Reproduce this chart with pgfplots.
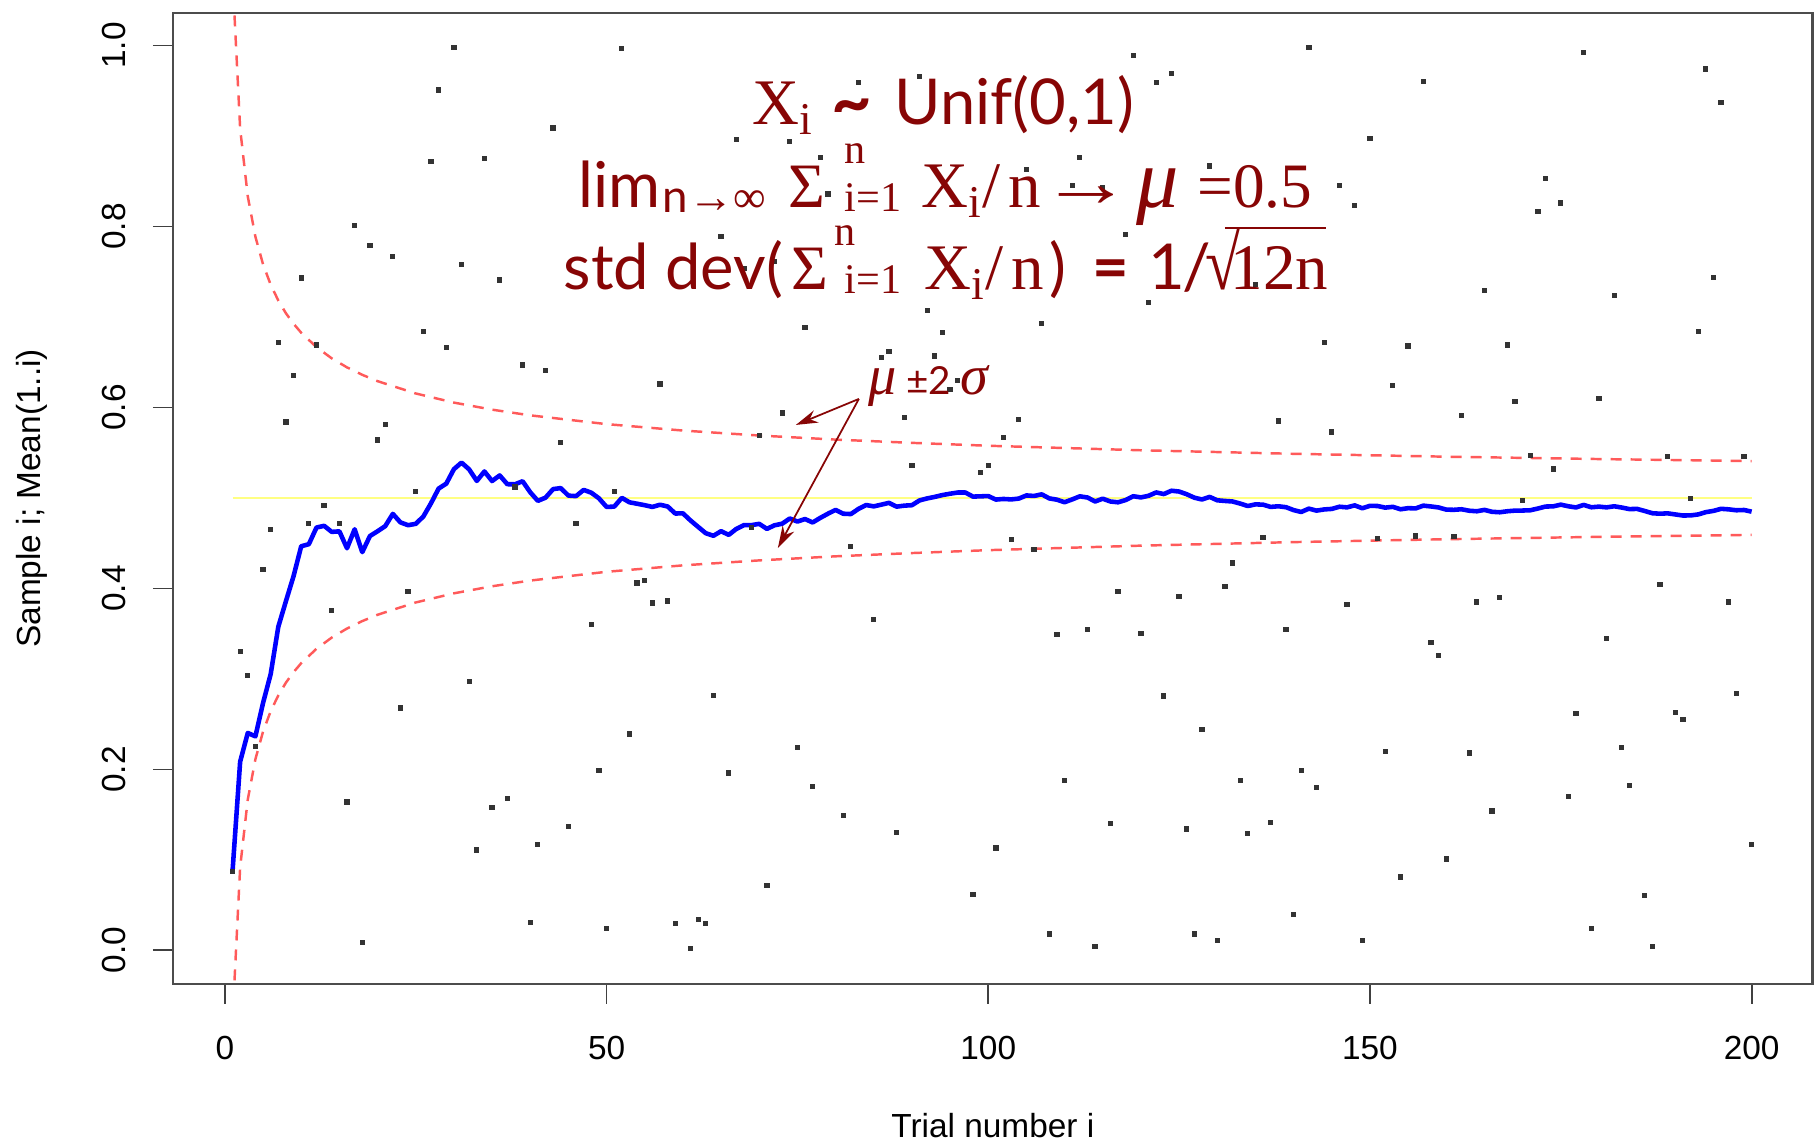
\documentclass[border=0pt]{standalone}
\usepackage{fontspec}
\setmainfont{Liberation Sans}
\newfontfamily\tms{Liberation Serif}
\newfontfamily\gill{Lato}
\usepackage{pgfplots}
\pgfplotsset{compat=1.18}
\usetikzlibrary{arrows.meta}

\definecolor{dred}{RGB}{135,5,5}
\definecolor{rdash}{RGB}{255,90,90}
\definecolor{pyel}{RGB}{255,255,130}

% sum limits: n above, i=1 below
\newcommand\sums[2]{{\tms\fontsize{12}{13}\selectfont\makebox[0pt][l]{\raisebox{4.4mm}{#1}}\raisebox{-0.35mm}{#2}}}

\begin{document}
\begin{tikzpicture}
\begin{axis}[
  scale only axis,
  width=164mm, height=97.1mm,
  xmin=-6.8, xmax=208.0,
  ymin=-0.037, ymax=1.036,
  axis line style={black!70, line width=0.7pt},
  tick align=outside,
  major tick length=2mm,
  tick style={black!75, line width=0.5pt},
  xtick={0,50,100,150,200},
  xticklabels={0,50,100,150,200},
  ytick={0,0.2,0.4,0.6,0.8,1},
  yticklabels={0.0,0.2,0.4,0.6,0.8,1.0},
  xtick pos=bottom, ytick pos=left,
  every tick label/.append style={font=\fontsize{9.5}{11}\selectfont},
  xticklabel shift=2mm,
  yticklabel style={rotate=90, anchor=south},
  yticklabel shift=1.5mm,
  xlabel={Trial number i},
  ylabel={Sample i; Mean(1..i)},
  label style={font=\fontsize{9.5}{11}\selectfont},
  xlabel style={at={(axis description cs:0.5,-0.1457)}, anchor=center},
  ylabel style={at={(axis description cs:-0.0858,0.5)}, anchor=center},
]

% mu = 0.5
\addplot[pyel, line width=0.8pt] coordinates {(1,0.5) (200,0.5)};

% mu +- 2 sigma
\addplot[rdash, line width=0.7pt, dash pattern=on 1.1mm off 0.9mm] coordinates {
(1,1.0774) (2,0.9082) (3,0.8333) (4,0.7887) (5,0.7582) (6,0.7357) (7,0.7182) (8,0.7041) (9,0.6925) (10,0.6826)
(12,0.6667) (14,0.6543) (16,0.6443) (18,0.6361) (20,0.6291) (25,0.6155) (30,0.6054) (35,0.5976) (40,0.5913)
(50,0.5816) (60,0.5745) (70,0.5690) (80,0.5645) (90,0.5609) (100,0.5577) (120,0.5527) (140,0.5488)
(160,0.5456) (180,0.5430) (200,0.5408)};
\addplot[rdash, line width=0.7pt, dash pattern=on 1.1mm off 0.9mm] coordinates {
(1,-0.0774) (2,0.0918) (3,0.1667) (4,0.2113) (5,0.2418) (6,0.2643) (7,0.2818) (8,0.2959) (9,0.3075) (10,0.3174)
(12,0.3333) (14,0.3457) (16,0.3557) (18,0.3639) (20,0.3709) (25,0.3845) (30,0.3946) (35,0.4024) (40,0.4087)
(50,0.4184) (60,0.4255) (70,0.4310) (80,0.4355) (90,0.4391) (100,0.4423) (120,0.4473) (140,0.4512)
(160,0.4544) (180,0.4570) (200,0.4592)};

% running mean
\addplot[blue, line width=1.3pt, line join=round] coordinates {
(1,0.0870) (2,0.2085) (3,0.2403) (4,0.2365) (5,0.2734) (6,0.3053) (7,0.3577) (8,0.3860) (9,0.4137) (10,0.4466)
(11,0.4489) (12,0.4673) (13,0.4692) (14,0.4625) (15,0.4631) (16,0.4444) (17,0.4654) (18,0.4401) (19,0.4579) (20,0.4632)
(21,0.4688) (22,0.4824) (23,0.4730) (24,0.4699) (25,0.4714) (26,0.4795) (27,0.4941) (28,0.5104) (29,0.5158) (30,0.5318)
(31,0.5391) (32,0.5316) (33,0.5188) (34,0.5293) (35,0.5187) (36,0.5249) (37,0.5152) (38,0.5151) (39,0.5185) (40,0.5063)
(41,0.4968) (42,0.5003) (43,0.5098) (44,0.5109) (45,0.5026) (46,0.5020) (47,0.5089) (48,0.5058) (49,0.4996) (50,0.4901)
(51,0.4904) (52,0.5001) (53,0.4952) (54,0.4936) (55,0.4920) (56,0.4901) (57,0.4925) (58,0.4906) (59,0.4828) (60,0.4830)
(61,0.4751) (62,0.4680) (63,0.4610) (64,0.4582) (65,0.4633) (66,0.4592) (67,0.4658) (68,0.4700) (69,0.4700) (70,0.4714)
(71,0.4658) (72,0.4698) (73,0.4715) (74,0.4773) (75,0.4739) (76,0.4767) (77,0.4729) (78,0.4780) (79,0.4826) (80,0.4868)
(81,0.4826) (82,0.4822) (83,0.4879) (84,0.4922) (85,0.4907) (86,0.4926) (87,0.4946) (88,0.4904) (89,0.4915) (90,0.4920)
(91,0.4973) (92,0.4995) (93,0.5012) (94,0.5032) (95,0.5047) (96,0.5060) (97,0.5060) (98,0.5015) (99,0.5018) (100,0.5021)
(101,0.4982) (102,0.4989) (103,0.4984) (104,0.4993) (105,0.5028) (106,0.5022) (107,0.5040) (108,0.4995) (109,0.4981) (110,0.4953)
(111,0.4984) (112,0.5018) (113,0.5005) (114,0.4961) (115,0.4992) (116,0.4961) (117,0.4952) (118,0.4977) (119,0.5019) (120,0.5006)
(121,0.5024) (122,0.5061) (123,0.5043) (124,0.5080) (125,0.5071) (126,0.5041) (127,0.5003) (128,0.4983) (129,0.5012) (130,0.4974)
(131,0.4967) (132,0.4961) (133,0.4938) (134,0.4911) (135,0.4929) (136,0.4926) (137,0.4901) (138,0.4908) (139,0.4898) (140,0.4866)
(141,0.4845) (142,0.4882) (143,0.4860) (144,0.4873) (145,0.4879) (146,0.4903) (147,0.4896) (148,0.4918) (149,0.4886) (150,0.4913)
(151,0.4911) (152,0.4893) (153,0.4902) (154,0.4875) (155,0.4887) (156,0.4885) (157,0.4915) (158,0.4906) (159,0.4895) (160,0.4871)
(161,0.4869) (162,0.4875) (163,0.4859) (164,0.4853) (165,0.4868) (166,0.4847) (167,0.4842) (168,0.4853) (169,0.4860) (170,0.4861)
(171,0.4864) (172,0.4883) (173,0.4905) (174,0.4907) (175,0.4926) (176,0.4908) (177,0.4895) (178,0.4923) (179,0.4897) (180,0.4904)
(181,0.4896) (182,0.4908) (183,0.4894) (184,0.4877) (185,0.4879) (186,0.4856) (187,0.4831) (188,0.4826) (189,0.4830) (190,0.4818)
(191,0.4806) (192,0.4807) (193,0.4818) (194,0.4843) (195,0.4857) (196,0.4880) (197,0.4874) (198,0.4864) (199,0.4867) (200,0.4849)};

% samples X_i (those hidden under the text / lines left out)
\addplot[only marks, mark=square*, mark size=0.55pt, black!80] coordinates {
(1,0.087) (2,0.330) (3,0.304) (4,0.225) (5,0.421) (6,0.465) (7,0.672) (8,0.584) (9,0.635) (10,0.743)
(11,0.472) (12,0.669) (13,0.492) (14,0.376) (15,0.472) (16,0.164) (17,0.801) (18,0.009) (19,0.779) (20,0.564)
(21,0.581) (22,0.767) (23,0.268) (24,0.397) (25,0.507) (26,0.684) (27,0.872) (28,0.951) (29,0.666) (30,0.998)
(31,0.758) (32,0.297) (33,0.111) (34,0.875) (35,0.158) (36,0.741) (37,0.168) (38,0.512) (39,0.647) (40,0.031)
(41,0.117) (42,0.641) (43,0.909) (44,0.561) (45,0.137) (46,0.472) (48,0.360) (49,0.199) (50,0.024)
(51,0.507) (52,0.997) (53,0.239) (54,0.406) (55,0.409) (56,0.384) (57,0.626) (58,0.386) (59,0.030)
(61,0.002) (62,0.034) (63,0.030) (64,0.282) (65,0.789) (66,0.196) (67,0.896) (68,0.754) (69,0.467) (70,0.569)
(71,0.072) (72,0.761) (73,0.594) (74,0.894) (75,0.224) (76,0.688) (77,0.181) (78,0.876) (79,0.836)
(81,0.149) (82,0.446) (83,0.959) (85,0.366) (86,0.655) (87,0.662) (88,0.130) (89,0.589) (90,0.536)
(91,0.966) (92,0.707) (93,0.657) (94,0.683) (95,0.620) (96,0.630) (98,0.062) (99,0.528) (100,0.536)
(101,0.113) (102,0.567) (103,0.454) (104,0.587) (105,0.863) (106,0.443) (107,0.693) (108,0.018) (109,0.349) (110,0.188)
(111,0.845) (112,0.876) (113,0.355) (114,0.004) (115,0.843) (116,0.140) (117,0.397) (118,0.791) (119,0.989) (120,0.350)
(121,0.716) (122,0.959) (123,0.281) (124,0.969) (125,0.391) (126,0.134) (127,0.018) (128,0.244) (129,0.867) (130,0.011)
(131,0.402) (132,0.428) (133,0.188) (134,0.129) (135,0.736) (136,0.456) (137,0.141) (138,0.585) (139,0.355) (140,0.040)
(141,0.199) (142,0.998) (143,0.180) (144,0.672) (145,0.573) (146,0.845) (147,0.382) (148,0.823) (149,0.011) (150,0.897)
(151,0.455) (152,0.220) (153,0.624) (154,0.081) (155,0.668) (156,0.458) (157,0.960) (158,0.340) (159,0.326) (160,0.101)
(161,0.457) (162,0.591) (163,0.218) (164,0.385) (165,0.729) (166,0.154) (167,0.390) (168,0.669) (169,0.607) (170,0.497)
(171,0.547) (172,0.817) (173,0.853) (174,0.532) (175,0.826) (176,0.170) (177,0.262) (178,0.992) (179,0.024) (180,0.610)
(181,0.345) (182,0.724) (183,0.224) (184,0.182) (186,0.061) (187,0.004) (188,0.404) (189,0.546) (190,0.263)
(191,0.255) (192,0.499) (193,0.684) (194,0.974) (195,0.744) (196,0.937) (197,0.385) (198,0.284) (199,0.546) (200,0.117)};
\end{axis}

% annotations, in pixels of the 1816x1146 picture (origin top left)
\begin{scope}[shift={([shift={(-17.3mm,1.3mm)}]current axis.north west)}, x=0.1mm, y=-0.1mm,
  every node/.style={inner sep=0pt, anchor=base west, text=dred}]
  \node[font=\tms\fontsize{18.5}{20}\selectfont] at (752,125) {X\textsubscript{i}};
  \node[font=\gill\bfseries\fontsize{20}{22}\selectfont] at (831,127) {\textasciitilde};
  \node[font=\gill\fontsize{18}{20}\selectfont] at (894,125) {Unif(0,1)};

  \node[font=\gill\fontsize{18}{20}\selectfont] at (578,208) {lim};
  \node[font=\fontsize{13}{14}\selectfont] at (662,213) {{\gill n}{\tms →∞}};
  \node[font=\tms\fontsize{18}{20}\selectfont] at (788,208) {Σ};
  \node at (844,208) {\sums{n}{i=1}};
  \node[font=\tms\fontsize{18.5}{20}\selectfont] at (921,208) {X\textsubscript{i}/\kern0.12em n};
  \node[font=\tms\fontsize{18}{20}\selectfont] at (1040,207) {\scalebox{1.45}[1.1]{→}};
  \node[font=\tms\itshape\fontsize{24}{26}\selectfont] at (1136,208) {μ};
  \node[font=\tms\fontsize{18}{20}\selectfont] at (1197,208) {=0.5};

  \node[font=\gill\fontsize{18}{20}\selectfont] at (563,290) {std dev(};
  \node[font=\tms\fontsize{18}{20}\selectfont] at (791,290) {Σ};
  \node at (834,290) {\sums{n}{\hspace{1mm}i=1}};
  \node[font=\tms\fontsize{18.5}{20}\selectfont] at (924,290) {X\textsubscript{i}/\kern0.12em n};
  \node[font=\gill\fontsize{18}{20}\selectfont] at (1049,290) {)};
  \node[font=\gill\bfseries\fontsize{18}{20}\selectfont] at (1092,290) {=};
  \node[font=\gill\fontsize{18}{20}\selectfont] at (1148,290) {1\kern-0.04em/};
  \node[font=\tms\fontsize{18}{20}\selectfont] at (1205,290) {\scalebox{1}[1.2]{√}};
  \node[font=\tms\fontsize{18.5}{20}\selectfont] at (1230,290) {12n};
  \draw[dred, line width=0.6pt] (1225,228) -- (1326,228);

  \node[font=\tms\itshape\fontsize{16}{18}\selectfont] at (868,395) {μ};
  \node[font=\gill\fontsize{11}{12}\selectfont] at (906,395) {±2};
  \node[font=\tms\itshape\fontsize{16}{18}\selectfont] at (960,395) {σ};

  \draw[dred, line width=0.5pt, -{Stealth[length=2.2mm, width=1.3mm]}] (859,399) -- (796,425);
  \draw[dred, line width=0.5pt, -{Stealth[length=2.2mm, width=1.3mm]}] (859,399) -- (778,548);
\end{scope}

\pgfresetboundingbox
\path[use as bounding box] ([shift={(-17.3mm,-16.2mm)}]current axis.south west)
  rectangle ([shift={(0.33mm,1.3mm)}]current axis.north east);
\end{tikzpicture}
\end{document}
